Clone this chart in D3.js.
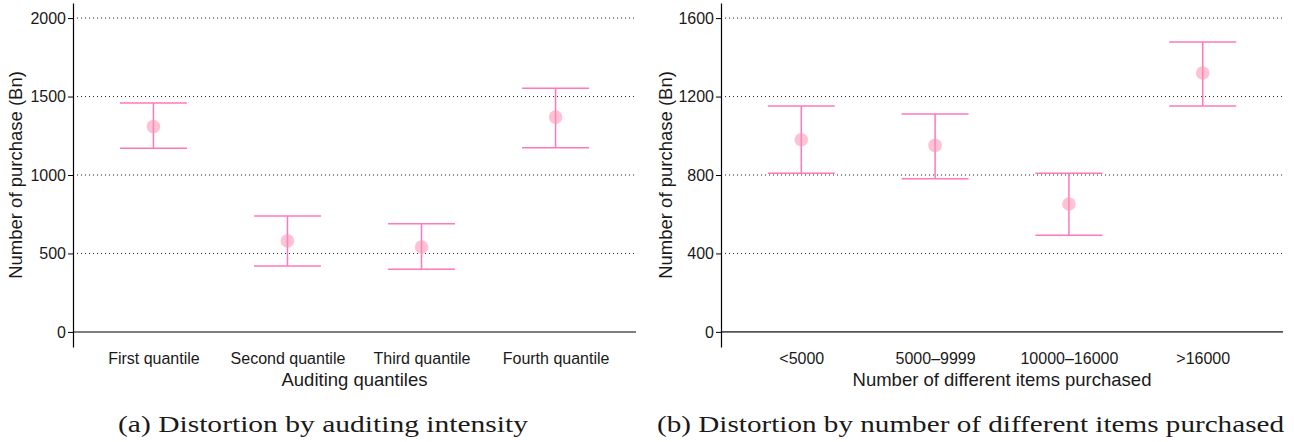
<!DOCTYPE html>
<html>
<head>
<meta charset="utf-8">
<script src="https://cdn.jsdelivr.net/npm/d3@7"></script>
<style>
  body { margin: 0; background: #fff; }
  svg { display: block; }
  .axis text { font-family: "Liberation Sans", Arial, sans-serif; font-size: 16px; fill: #1a1a1a; }
  .title { font-family: "Liberation Sans", Arial, sans-serif; font-size: 18.5px; fill: #1a1a1a; }
  .caption { font-family: "Liberation Serif", "Times New Roman", serif; font-size: 23px; fill: #1a1a1a; }
</style>
</head>
<body>
<svg id="fig" width="1294" height="442"></svg>
<script>
// (a) auditing quantiles
const quantiles = ["First quantile", "Second quantile", "Third quantile", "Fourth quantile"];
const quantMean = [1308, 580, 541, 1369];
const quantLow  = [1170, 420, 399, 1174];
const quantHigh = [1458, 739, 690, 1552];
const quantTicks = [0, 500, 1000, 1500, 2000];

// (b) nombre d'articles différents
const itemGroups = ["<5000", "5000\u20139999", "10000\u201316000", ">16000"];
const itemMean = [980, 951, 652, 1320];
const itemLow  = [809, 781, 493, 1152];
const itemHigh = [1152, 1111, 809, 1478];
const itemTicks = [0, 400, 800, 1200, 1600];

const barColor = "#ff78bb";
const dotColor = "#ff8fb0";

const svg = d3.select("#fig");

function panel(opts) {
    const g = svg.append("g");
    const x = d3.scalePoint().domain(opts.cats).range(opts.xr).padding(0.6);
    const y = d3.scaleLinear().domain(opts.yd).range([347, 3]);

    // lignes pointillées
    g.selectAll(".grid")
        .data(opts.ticks.filter(t => t !== 0))
        .enter().append("line")
        .attr("x1", opts.xr[0]).attr("x2", opts.xr[1])
        .attr("y1", d => y(d)).attr("y2", d => y(d))
        .attr("stroke", "#222").attr("stroke-width", 1)
        .attr("stroke-dasharray", "1,3");

    // ligne du zéro
    g.append("line")
        .attr("x1", opts.xr[0]).attr("x2", opts.xr[1])
        .attr("y1", y(0)).attr("y2", y(0))
        .attr("stroke", "#555").attr("stroke-width", 1.6);

    // axe y
    const ya = g.append("g").attr("class", "axis")
        .attr("transform", `translate(${opts.xr[0]},0)`)
        .call(d3.axisLeft(y).tickValues(opts.ticks).tickFormat(d3.format("d"))
            .tickSize(5).tickSizeOuter(0).tickPadding(2));
    ya.select(".domain").attr("stroke", "#000").attr("stroke-width", 1.2);
    ya.selectAll(".tick line").attr("stroke", "#000");

    // axe x (étiquettes seulement)
    const xa = g.append("g").attr("class", "axis")
        .attr("transform", "translate(0,347)")
        .call(d3.axisBottom(x).tickSize(0).tickPadding(6));
    xa.select(".domain").remove();

    const rows = opts.cats.map((c, i) => ({c: c, m: opts.mean[i], lo: opts.low[i], hi: opts.high[i]}));
    const cap = 33.5;

    const eb = g.selectAll(".eb").data(rows).enter().append("g");
    eb.append("line")
        .attr("x1", d => x(d.c)).attr("x2", d => x(d.c))
        .attr("y1", d => y(d.lo)).attr("y2", d => y(d.hi))
        .attr("stroke", barColor).attr("stroke-width", 1.5);
    eb.append("line")
        .attr("x1", d => x(d.c) - cap).attr("x2", d => x(d.c) + cap)
        .attr("y1", d => y(d.hi)).attr("y2", d => y(d.hi))
        .attr("stroke", barColor).attr("stroke-width", 1.5);
    eb.append("line")
        .attr("x1", d => x(d.c) - cap).attr("x2", d => x(d.c) + cap)
        .attr("y1", d => y(d.lo)).attr("y2", d => y(d.lo))
        .attr("stroke", barColor).attr("stroke-width", 1.5);
    eb.append("circle")
        .attr("cx", d => x(d.c)).attr("cy", d => y(d.m))
        .attr("r", 6.8)
        .attr("fill", dotColor).attr("opacity", 0.55);

    // titres
    g.append("text").attr("class", "title")
        .attr("x", (opts.xr[0] + opts.xr[1]) / 2).attr("y", 386)
        .attr("text-anchor", "middle").text(opts.xtitle);
    g.append("text").attr("class", "title")
        .attr("transform", `translate(${opts.ytx},175) rotate(-90)`)
        .attr("text-anchor", "middle").text("Number of purchase (Bn)");
    g.append("text").attr("class", "caption")
        .attr("x", opts.capx).attr("y", 432)
        .attr("textLength", opts.capw).attr("lengthAdjust", "spacingAndGlyphs")
        .text(opts.caption);
}

panel({
    cats: quantiles, mean: quantMean, low: quantLow, high: quantHigh, ticks: quantTicks,
    xr: [73, 636], yd: [-96, 2096], ytx: 22,
    xtitle: "Auditing quantiles",
    caption: "(a) Distortion by auditing intensity", capx: 118, capw: 410
});

panel({
    cats: itemGroups, mean: itemMean, low: itemLow, high: itemHigh, ticks: itemTicks,
    xr: [721, 1283], yd: [-77, 1677], ytx: 672,
    xtitle: "Number of different items purchased",
    caption: "(b) Distortion by number of different items purchased", capx: 657, capw: 627
});
</script>
</body>
</html>
